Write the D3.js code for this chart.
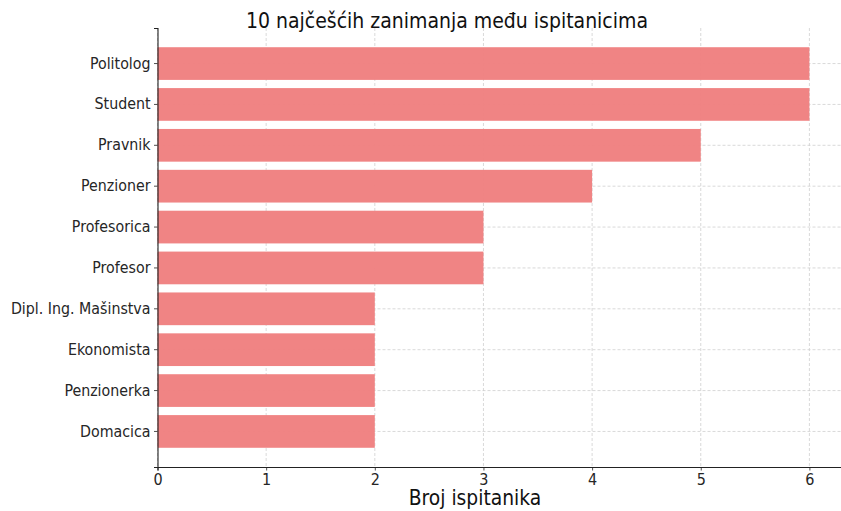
<!DOCTYPE html>
<html>
<head>
<meta charset="utf-8">
<script src="https://cdn.jsdelivr.net/npm/d3@7"></script>
<style>
  body { margin: 0; background: #fff; }
  svg { display: block; }
</style>
</head>
<body>
<div id="chart"></div>
<script>
// occupations and counts, top to bottom
var occupations = ["Politolog", "Student", "Pravnik", "Penzioner", "Profesorica",
  "Profesor", "Dipl. Ing. Mašinstva", "Ekonomista", "Penzionerka", "Domacica"];
var counts = [6, 6, 5, 4, 3, 3, 2, 2, 2, 2];
var xTicks = [0, 1, 2, 3, 4, 5, 6];

var titleText = "10 najčešćih zanimanja među ispitanicima";
var xLabel = "Broj ispitanika";

var data = occupations.map(function(d, i) { return {name: d, value: counts[i]}; });

var W = 841, H = 511;
var margin = {top: 28, right: -1, bottom: 44, left: 157.5};
var width = W - margin.left - margin.right,
    height = H - margin.top - margin.bottom;

var svg = d3.select("#chart")
  .append("svg")
    .attr("width", W)
    .attr("height", H)
  .append("g")
    .attr("transform", "translate(" + margin.left + "," + margin.top + ")");

// x: matplotlib style 5% padding on the right
var x = d3.scaleLinear()
  .domain([0, d3.max(counts) * 1.05])
  .range([0, width]);

// y: band scale, bar height 0.8 of step
var y = d3.scaleBand()
  .domain(occupations)
  .range([0, height])
  .paddingInner(0.2)
  .paddingOuter(0.47);

// grid
svg.append("g")
  .selectAll("line.vgrid")
  .data(xTicks)
  .enter().append("line")
    .attr("x1", function(d) { return x(d); })
    .attr("x2", function(d) { return x(d); })
    .attr("y1", 0)
    .attr("y2", height)
    .attr("stroke", "#cfcfcf")
    .attr("stroke-width", 0.8)
    .attr("stroke-dasharray", "3,2");

svg.append("g")
  .selectAll("line.hgrid")
  .data(occupations)
  .enter().append("line")
    .attr("x1", 0)
    .attr("x2", width)
    .attr("y1", function(d) { return y(d) + y.bandwidth() / 2; })
    .attr("y2", function(d) { return y(d) + y.bandwidth() / 2; })
    .attr("stroke", "#cfcfcf")
    .attr("stroke-width", 0.8)
    .attr("stroke-dasharray", "3,2");

// bars
svg.selectAll("rect.bar")
  .data(data)
  .enter().append("rect")
    .attr("class", "bar")
    .attr("x", x(0))
    .attr("y", function(d) { return y(d.name); })
    .attr("width", function(d) { return x(d.value) - x(0); })
    .attr("height", y.bandwidth())
    .attr("fill", "#F08080")
    .attr("fill-opacity", 0.97);

// axes
var xAxis = svg.append("g")
  .attr("transform", "translate(0," + height + ")")
  .call(d3.axisBottom(x).tickValues(xTicks).tickSize(3.5).tickPadding(3).tickFormat(d3.format("d")));

var yAxis = svg.append("g")
  .call(d3.axisLeft(y).tickSize(3.5).tickPadding(3.5));

[xAxis, yAxis].forEach(function(a) {
  a.select(".domain").attr("stroke", "#222").attr("stroke-width", 1.1);
  a.selectAll(".tick line").attr("stroke", "#222").attr("stroke-width", 0.8);
});

xAxis.selectAll("text")
  .attr("font-family", "DejaVu Sans Condensed, DejaVu Sans")
  .attr("font-size", 16)
  .attr("fill", "#262626");

yAxis.selectAll("text")
  .attr("font-family", "DejaVu Sans Condensed, DejaVu Sans")
  .attr("font-size", 15.8)
  .attr("fill", "#262626");

// title
svg.append("text")
  .attr("x", 447 - margin.left)
  .attr("y", 28 - margin.top)
  .attr("text-anchor", "middle")
  .attr("font-family", "DejaVu Sans Condensed, DejaVu Sans")
  .attr("font-size", 21)
  .attr("fill", "#111")
  .text(titleText);

// x label
svg.append("text")
  .attr("x", 475 - margin.left)
  .attr("y", 505 - margin.top)
  .attr("text-anchor", "middle")
  .attr("font-family", "DejaVu Sans Condensed, DejaVu Sans")
  .attr("font-size", 20.8)
  .attr("fill", "#111")
  .text(xLabel);
</script>
</body>
</html>
